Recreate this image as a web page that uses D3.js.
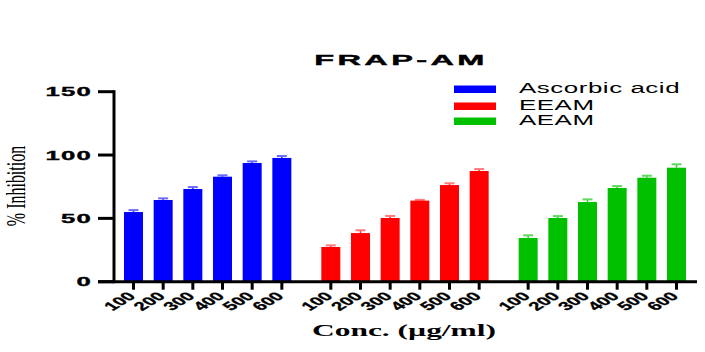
<!DOCTYPE html>
<html><head><meta charset="utf-8">
<script src="https://cdn.jsdelivr.net/npm/d3@7"></script>
<style>body{margin:0;background:#fff}svg{display:block}</style>
</head><body>
<svg id="chart" width="705" height="352"></svg>
<script>
const groups = ["Ascorbic acid", "EEAM", "AEAM"];
const concentrations = ["100", "200", "300", "400", "500", "600"];
const ascorbicValues = [55.0, 64.5, 73.2, 82.9, 93.7, 97.7];
const ascorbicErrors = [1.5, 1.3, 1.5, 1.1, 1.3, 1.5];
const eeamValues = [27.4, 38.4, 50.3, 64.0, 76.3, 87.4];
const eeamErrors = [1.3, 2.2, 1.6, 0.6, 1.4, 1.5];
const aeamValues = [34.5, 50.3, 62.9, 74.0, 82.1, 90.0];
const aeamErrors = [2.1, 1.5, 2.1, 1.5, 1.6, 2.7];
const yTicks = [0, 50, 100, 150];
const colors = ["#0000ff", "#ff0000", "#00c000"];
const errColors = ["#6a6aff", "#ff7a7a", "#5fd85f"];

const seriesValues = [ascorbicValues, eeamValues, aeamValues];
const seriesErrors = [ascorbicErrors, eeamErrors, aeamErrors];

const sx = 1.85; // horizontal text stretch of the original picture
const svg = d3.select("#chart");

const y = d3.scaleLinear().domain([0, 150]).range([281.7, 91.7]);
const x0 = d3.scaleBand().domain(groups).range([124, 686]).paddingInner(0.152).paddingOuter(0);
const x1 = d3.scaleBand().domain(concentrations).range([0, x0.bandwidth()]).paddingInner(0.36).paddingOuter(0);

// bars
groups.forEach((g, gi) => {
  const gEl = svg.append("g").attr("transform", `translate(${x0(g)},0)`);
  const data = concentrations.map((c, i) => ({c, v: seriesValues[gi][i], e: seriesErrors[gi][i]}));
  gEl.selectAll("line.stem").data(data).join("line")
    .attr("x1", d => x1(d.c) + x1.bandwidth()/2).attr("x2", d => x1(d.c) + x1.bandwidth()/2)
    .attr("y1", d => y(d.v)).attr("y2", d => y(d.v + d.e))
    .attr("stroke", colors[gi]).attr("stroke-width", 1.5).attr("opacity", 0.8);
  gEl.selectAll("line.cap").data(data).join("line")
    .attr("x1", d => x1(d.c) + x1.bandwidth()/2 - 5).attr("x2", d => x1(d.c) + x1.bandwidth()/2 + 5)
    .attr("y1", d => y(d.v + d.e)).attr("y2", d => y(d.v + d.e))
    .attr("stroke", errColors[gi]).attr("stroke-width", 2);
  gEl.selectAll("rect").data(data).join("rect")
    .attr("x", d => x1(d.c)).attr("width", x1.bandwidth())
    .attr("y", d => y(d.v)).attr("height", d => y(0) - y(d.v))
    .attr("fill", colors[gi]);
  gEl.selectAll("line.tick").data(data).join("line")
    .attr("x1", d => x1(d.c) + x1.bandwidth()/2).attr("x2", d => x1(d.c) + x1.bandwidth()/2)
    .attr("y1", y(0)).attr("y2", y(0) + 8)
    .attr("stroke", "#000").attr("stroke-width", 3);
  gEl.selectAll("text.tl").data(data).join("text")
    .attr("transform", d => `translate(${x1(d.c) + x1.bandwidth()/2 + 3},297) scale(1.7,1) rotate(-45)`)
    .attr("text-anchor", "end")
    .attr("font-family", "Liberation Sans, Arial, sans-serif").attr("font-weight", "bold")
    .attr("font-size", 12).attr("fill", "#000").attr("stroke", "#000").attr("stroke-width", 0.3)
    .text(d => d.c);
});

// y axis
const yAxis = svg.append("g");
yAxis.append("line").attr("x1", 114).attr("x2", 114).attr("y1", y(150) - 1.5).attr("y2", y(0) + 1.5)
  .attr("stroke", "#000").attr("stroke-width", 3);
yAxis.selectAll("line.t").data(yTicks).join("line")
  .attr("x1", 98).attr("x2", 114).attr("y1", d => y(d)).attr("y2", d => y(d))
  .attr("stroke", "#000").attr("stroke-width", 3);
yAxis.selectAll("text").data(yTicks).join("text")
  .attr("transform", d => `translate(92,${y(d) + 4.5}) scale(2.05,1)`)
  .attr("text-anchor", "end")
  .attr("font-family", "Liberation Sans, Arial, sans-serif").attr("font-weight", "bold")
  .attr("font-size", 12.5).attr("letter-spacing", 0.6).attr("fill", "#000")
  .attr("stroke", "#000").attr("stroke-width", 0.35)
  .text(d => d);

// x axis line
svg.append("line").attr("x1", 98).attr("x2", 697).attr("y1", y(0)).attr("y2", y(0))
  .attr("stroke", "#000").attr("stroke-width", 3);

// title
svg.append("text").attr("transform", `translate(401,65) scale(2.1,1)`)
  .attr("text-anchor", "middle")
  .attr("font-family", "Liberation Sans, Arial, sans-serif").attr("font-weight", "bold")
  .attr("font-size", 15.5).attr("letter-spacing", 1.6).attr("fill", "#000")
  .attr("stroke", "#000").attr("stroke-width", 0.4)
  .text("FRAP-AM");

// y label
svg.append("text").attr("transform", `translate(25,186) scale(1.7,1) rotate(-90)`)
  .attr("text-anchor", "middle")
  .attr("font-family", "Liberation Serif, Times New Roman, serif")
  .attr("font-size", 16).attr("fill", "#000")
  .text("% Inhibition");

// x label
svg.append("text").attr("transform", `translate(404,336) scale(${sx},1)`)
  .attr("text-anchor", "middle")
  .attr("font-family", "Liberation Serif, Times New Roman, serif").attr("font-weight", "bold")
  .attr("font-size", 17).attr("fill", "#000")
  .text("Conc. (µg/ml)");

// legend
const legend = svg.append("g");
groups.forEach((g, i) => {
  const yy = [93, 110, 125][i];
  legend.append("rect").attr("x", 454).attr("y", yy - 7.5).attr("width", 42).attr("height", 7.5).attr("fill", colors[i]);
  legend.append("text").attr("transform", `translate(519,${yy}) scale(${sx},1)`)
    .attr("font-family", "Liberation Sans, Arial, sans-serif")
    .attr("font-size", 14).attr("letter-spacing", 0.3).attr("fill", "#000")
    .text(g);
});
</script>
</body></html>
